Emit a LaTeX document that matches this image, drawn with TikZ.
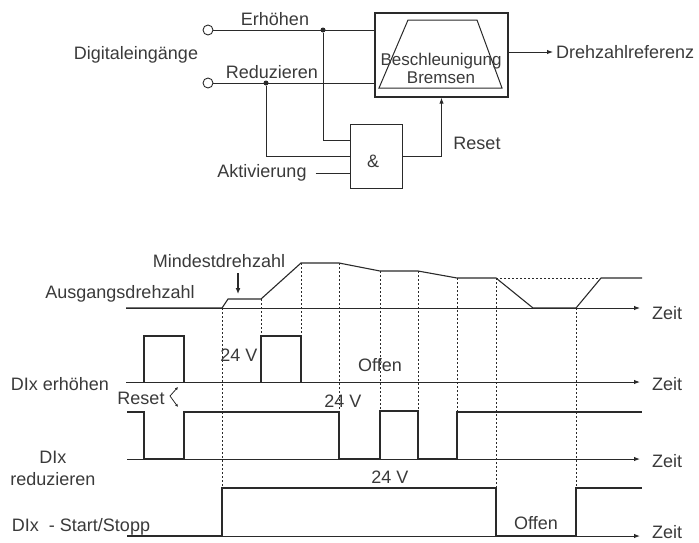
\documentclass[tikz,border=0pt]{standalone}
\usepackage{fontspec}
\setmainfont{Liberation Sans}
\usetikzlibrary{arrows.meta}
\definecolor{txt}{HTML}{3A3A3A}
\definecolor{ln}{HTML}{2A2A2A}
\begin{document}
\begin{tikzpicture}[x=1pt,y=-1pt,
  lbl/.style={font=\fontsize{18}{21}\selectfont, text=txt, inner sep=0pt},
  wire/.style={draw=ln, line width=1pt},
  sig/.style={draw=ln, line width=1.1pt, line join=miter},
  vdash/.style={draw=ln, line width=0.8pt, dash pattern=on 2pt off 2pt},
  axis/.style={draw=ln, line width=1pt, -{Latex[length=6pt,width=4.5pt]}},
  tip/.style={-{Latex[length=6pt,width=4.5pt]}},
  port/.style={circle, draw=ln, line width=0.9pt, minimum size=10pt, inner sep=0pt},
  jdot/.style={circle, fill=ln, minimum size=5pt, inner sep=0pt},
]
\useasboundingbox (0,0) rectangle (699,542);

% ---------- block diagram ----------
\node[port] (in1) at (208,30) {};
\node[port] (in2) at (208,83) {};
\node[draw=ln, line width=1.4pt, minimum width=133pt, minimum height=84pt, inner sep=0pt] (blk) at (441.5,55) {};
\draw[wire] (408,20) -- (477,20) -- (502,88) -- (379,88) -- cycle;
\node[lbl, align=center, font=\fontsize{17}{19}\selectfont] (bt) at (441,68) {Beschleunigung\\[-1pt]Bremsen};
\node[draw=ln, line width=1pt, minimum width=52pt, minimum height=64pt, inner sep=0pt] (gate) at (376,156) {};
\node[lbl] (amp) at (373,161) {\&};
\node[jdot] (d1) at (323,30) {};
\node[jdot] (d2) at (266,83) {};

\node[lbl] (lerh) at (275,19) {Erhöhen};
\node[lbl] (lred) at (272,72) {Reduzieren};
\node[lbl] (ldig) at (136,55) {Digitaleingänge};
\node[lbl] (lres) at (477,143) {Reset};
\node[lbl] (lakt) at (262,173) {Aktivierung};
\node[lbl, anchor=west] (ldr) at (556,52) {Drehzahlreferenz};

\draw[wire] (in1.east) -- (blk.west |- in1);
\draw[wire] (in2.east) -- (blk.west |- in2);
\draw[wire] (d1) |- ([yshift=16pt]gate.west);
\draw[wire] (d2) |- (gate.west);
\draw[wire] ([xshift=9pt]lakt.east) -- (gate.west |- lakt);
\draw[wire, tip] (gate.east) -| (blk.south);
\draw[wire, tip] (blk.east |- ldr) -- ([xshift=-3pt]ldr.west);

% ---------- timing diagram ----------
% axes
\draw[axis] (126,308) -- (640,308);
\draw[axis] (126,382) -- (640,382);
\draw[axis] (127,459) -- (640,459);
\draw[axis] (127,536) -- (640,536);
\foreach \y/\n in {313/z1,384/z2,461/z3,532/z4}
  \node[lbl, anchor=west] (\n) at (652,\y) {Zeit};

% dotted verticals
\draw[vdash] (222,308) -- (222,488);
\draw[vdash] (261,299) -- (261,336);
\draw[vdash] (301,263) -- (301,336);
\draw[vdash] (339,263) -- (339,412);
\draw[vdash] (380,271) -- (380,411);
\draw[vdash] (418,271) -- (418,411);
\draw[vdash] (457,278) -- (457,412);
\draw[vdash] (496,278) -- (496,488);
\draw[vdash] (576,308) -- (576,488);
\draw[vdash] (496,278) -- (601,278);

% output speed
\draw[sig] (126,308) -- (222,308) -- (228,299) -- (261,299) -- (301,263) -- (339,263)
  -- (380,271) -- (418,271) -- (457,278) -- (496,278) -- (533,308) -- (576,308)
  -- (601,278) -- (642,278);

% DIx erhoehen
\draw[sig] (144,382) -- (144,336) -- (184,336) -- (184,382);
\draw[sig] (261,382) -- (261,336) -- (301,336) -- (301,382);

% DIx reduzieren
\draw[sig] (127,412) -- (144,412) -- (144,459) -- (184,459) -- (184,412) -- (339,412)
  -- (339,459) -- (380,459) -- (380,411) -- (418,411) -- (418,459) -- (457,459)
  -- (457,412) -- (642,412);

% Start/Stopp
\draw[sig] (127,536) -- (222,536) -- (222,488) -- (496,488) -- (496,536) -- (576,536)
  -- (576,488) -- (642,488);

% labels
\node[lbl] (lmin) at (219,261) {Mindestdrehzahl};
\draw[line width=1.3pt, draw=ln, -{Latex[length=6pt,width=5pt]}] (238,273) -- (238,294);
\node[lbl] (laus) at (120,294) {Ausgangsdrehzahl};
\node[lbl] (v1) at (239,355) {24 V};
\node[lbl] (off1) at (380,365) {Offen};
\node[lbl] (lerh2) at (60,384) {DIx erhöhen};
\node[lbl] (lrst) at (141,398) {Reset};
\draw[draw=ln, line width=0.8pt, {Latex[length=3pt,width=3pt]}-{Latex[length=3pt,width=3pt]}] (178,407) -- (170,396) -- (178,387);
\node[lbl] (v2) at (343,401) {24 V};
\node[lbl, align=center] (lred2) at (53,468) {DIx\\[1pt]reduzieren};
\node[lbl] (v3) at (390,477) {24 V};
\node[lbl] (lss) at (81,527) {DIx\ \ - Start/Stopp};
\node[lbl] (off2) at (536,523) {Offen};
\end{tikzpicture}
\end{document}
